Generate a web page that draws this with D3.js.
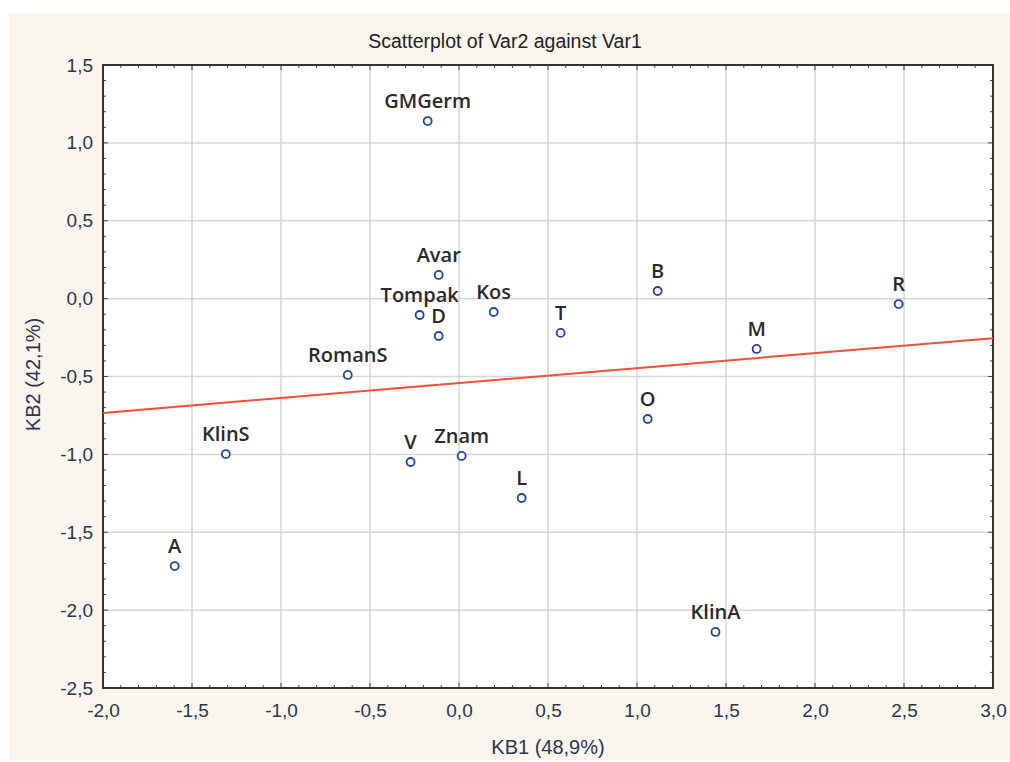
<!DOCTYPE html>
<html>
<head>
<meta charset="utf-8">
<script src="https://cdn.jsdelivr.net/npm/d3@7"></script>
<style>
  body { margin: 0; background: #ffffff; }
  svg { display: block; }
</style>
</head>
<body>
<div id="chart"></div>
<script>
// Point names and coordinates (KB1, KB2)
var names = ["GMGerm", "Avar", "Tompak", "D", "Kos", "T", "B", "R", "M", "O",
  "RomanS", "KlinS", "V", "Znam", "L", "A", "KlinA"];
var kb1 = [-0.176, -0.114, -0.221, -0.114, 0.195, 0.571, 1.116, 2.47, 1.672, 1.06,
  -0.625, -1.31, -0.272, 0.015, 0.352, -1.597, 1.441];
var kb2 = [1.14, 0.152, -0.105, -0.24, -0.086, -0.22, 0.049, -0.035, -0.323, -0.773,
  -0.49, -0.998, -1.049, -1.01, -1.28, -1.717, -2.14];

// Fitted line
var fitIntercept = -0.542;
var fitSlope = 0.096;

var xTicks = [-2.0, -1.5, -1.0, -0.5, 0.0, 0.5, 1.0, 1.5, 2.0, 2.5, 3.0];
var yTicks = [-2.5, -2.0, -1.5, -1.0, -0.5, 0.0, 0.5, 1.0, 1.5];

var svgWidth = 1010;
var svgHeight = 762;

var margin = { top: 65, right: 17, bottom: 74, left: 103 };
var width = svgWidth - margin.left - margin.right;
var height = svgHeight - margin.top - margin.bottom;

var svg = d3.select("#chart")
  .append("svg")
  .attr("width", svgWidth)
  .attr("height", svgHeight);

// cream background
svg.append("rect")
  .attr("x", 9)
  .attr("y", 13)
  .attr("width", svgWidth - 9)
  .attr("height", svgHeight - 15)
  .attr("fill", "#faf6ee");

// title
svg.append("text")
  .attr("x", 505)
  .attr("y", 48)
  .attr("text-anchor", "middle")
  .style("font-family", "'Liberation Sans Narrow', 'Liberation Sans', sans-serif")
  .style("font-size", "19.5px")
  .style("fill", "#222")
  .text("Scatterplot of Var2 against Var1");

var chartGroup = svg.append("g")
  .attr("transform", `translate(${margin.left}, ${margin.top})`);

var xScale = d3.scaleLinear().domain([-2, 3]).range([0, width]);
var yScale = d3.scaleLinear().domain([-2.5, 1.5]).range([height, 0]);

var fmt = function(d) { return d3.format(".1f")(d).replace(".", ",").replace("−", "-"); };

chartGroup.append("rect")
  .attr("width", width)
  .attr("height", height)
  .attr("fill", "#ffffff");

// grid lines
chartGroup.selectAll(".gx")
  .data(xTicks.slice(1, -1))
  .enter()
  .append("line")
  .attr("x1", d => xScale(d))
  .attr("x2", d => xScale(d))
  .attr("y1", 0)
  .attr("y2", height)
  .attr("stroke", "#d6d6d6")
  .attr("stroke-width", 1.5);

chartGroup.selectAll(".gy")
  .data(yTicks.slice(1, -1))
  .enter()
  .append("line")
  .attr("y1", d => yScale(d))
  .attr("y2", d => yScale(d))
  .attr("x1", 0)
  .attr("x2", width)
  .attr("stroke", "#d6d6d6")
  .attr("stroke-width", 1.5);

// minor + major ticks pointing inward on all four sides
var xMinor = d3.range(-2, 3.001, 0.1);
var yMinor = d3.range(-2.5, 1.501, 0.1);

function isMajor(v) { return Math.abs(v * 2 - Math.round(v * 2)) < 1e-6; }

var tickGroup = chartGroup.append("g")
  .attr("stroke", "#444")
  .attr("stroke-width", 1);

xMinor.forEach(function(v) {
  var len = isMajor(v) ? 5 : 3;
  tickGroup.append("line").attr("x1", xScale(v)).attr("x2", xScale(v)).attr("y1", height).attr("y2", height - len);
  tickGroup.append("line").attr("x1", xScale(v)).attr("x2", xScale(v)).attr("y1", 0).attr("y2", len);
});
yMinor.forEach(function(v) {
  var len = isMajor(v) ? 5 : 3;
  tickGroup.append("line").attr("y1", yScale(v)).attr("y2", yScale(v)).attr("x1", 0).attr("x2", len);
  tickGroup.append("line").attr("y1", yScale(v)).attr("y2", yScale(v)).attr("x1", width).attr("x2", width - len);
});

// frame
chartGroup.append("rect")
  .attr("width", width)
  .attr("height", height)
  .attr("fill", "none")
  .attr("stroke", "#333")
  .attr("stroke-width", 2);

// axis labels via d3 axes (no lines)
var bottomAxis = d3.axisBottom(xScale).tickValues(xTicks).tickFormat(fmt).tickSize(0).tickPadding(16);
var leftAxis = d3.axisLeft(yScale).tickValues(yTicks).tickFormat(fmt).tickSize(0).tickPadding(10);

var xAxis = chartGroup.append("g")
  .attr("transform", `translate(0, ${height})`)
  .call(bottomAxis);
var yAxis = chartGroup.append("g")
  .call(leftAxis);

[xAxis, yAxis].forEach(function(ax) {
  ax.select(".domain").remove();
  ax.selectAll("text")
    .style("font-family", "'Liberation Sans', Arial, sans-serif")
    .style("font-size", "19px")
    .style("fill", "#2b3550");
});

// axis titles
svg.append("text")
  .attr("x", margin.left + width / 2)
  .attr("y", 754)
  .attr("text-anchor", "middle")
  .style("font-family", "'Liberation Sans', Arial, sans-serif")
  .style("font-size", "20px")
  .style("fill", "#2b3550")
  .text("KB1 (48,9%)");

svg.append("text")
  .attr("transform", `translate(40, ${margin.top + height / 2 - 2}) rotate(-90)`)
  .attr("text-anchor", "middle")
  .style("font-family", "'Liberation Sans', Arial, sans-serif")
  .style("font-size", "20px")
  .style("fill", "#2b3550")
  .text("KB2 (42,1%)");

// fitted line
chartGroup.append("line")
  .attr("x1", xScale(-2))
  .attr("y1", yScale(fitIntercept + fitSlope * -2))
  .attr("x2", xScale(3))
  .attr("y2", yScale(fitIntercept + fitSlope * 3))
  .attr("stroke", "#f0503a")
  .attr("stroke-width", 2);

var points = names.map(function(n, i) { return { name: n, x: kb1[i], y: kb2[i] }; });

// points
chartGroup.selectAll("circle.pt")
  .data(points)
  .enter()
  .append("circle")
  .attr("class", "pt")
  .attr("cx", d => xScale(d.x))
  .attr("cy", d => yScale(d.y))
  .attr("r", 4)
  .attr("fill", "#ffffff")
  .attr("stroke", "#2244a8")
  .attr("stroke-width", 1.8);

// point labels
chartGroup.selectAll("text.lbl")
  .data(points)
  .enter()
  .append("text")
  .attr("class", "lbl")
  .attr("x", d => xScale(d.x))
  .attr("y", d => yScale(d.y) - 13)
  .attr("text-anchor", "middle")
  .style("font-family", "'Open Sans', sans-serif")
  .style("font-weight", 600)
  .style("font-size", "20px")
  .style("fill", "#2a2a2a")
  .text(d => d.name);
</script>
</body>
</html>
